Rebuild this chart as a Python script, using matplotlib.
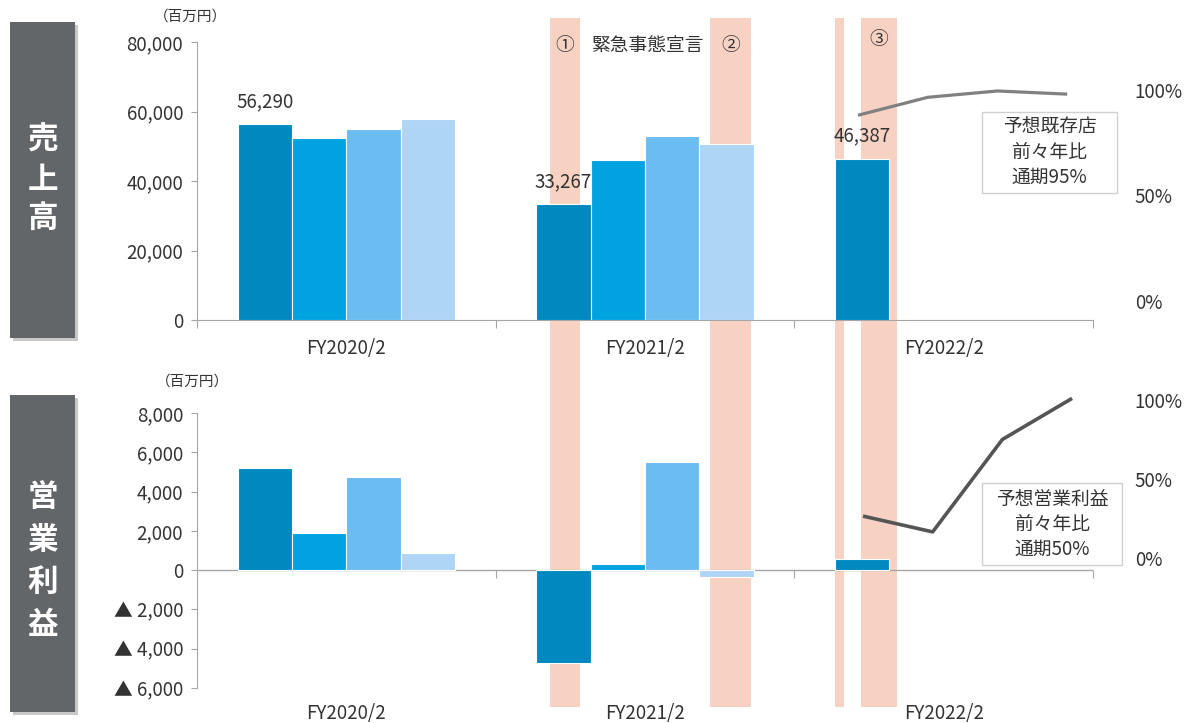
import numpy as np
import matplotlib
matplotlib.use('Agg')
import matplotlib.pyplot as plt
import matplotlib.transforms as mtransforms
from matplotlib.patches import Rectangle
from matplotlib.ticker import FuncFormatter

plt.rcParams['font.family'] = ['Noto Sans CJK JP', 'DejaVu Sans']

# 年度と四半期
years = ['FY2020/2', 'FY2021/2', 'FY2022/2']
quarters = ['1Q', '2Q', '3Q', '4Q']

# 売上高（百万円）
sales = [
    [56290, 52400, 55000, 57800],
    [33267, 46000, 52900, 50600],
    [46387],
]
# 営業利益（百万円）
profit = [
    [5200, 1900, 4750, 870],
    [-4750, 300, 5500, -350],
    [560],
]
# 予想 前々年比（%）
sales_ratio = [88, 96.5, 99.5, 98]
profit_ratio = [26.5, 16.5, 75, 101]

# 緊急事態宣言の期間（カテゴリ軸上）
periods = [(0.681, 0.781), (1.216, 1.356), (1.637, 1.667), (1.724, 1.844)]
period_marks = ['①', '②', None, '③']

bar_colors = ['#0088bf', '#00a3e0', '#6bbcf0', '#aed5f5']
band_color = '#f7d2c3'
txt_color = '#333333'
axis_color = '#a6a6a6'

W, H = 1192, 723
fig = plt.figure(figsize=(W / 100, H / 100), dpi=100)


def fx(x):
    return x / W


def fy(y):
    return 1 - y / H


def box(x0, y0, x1, y1):
    return [fx(x0), fy(y1), (x1 - x0) / W, (y1 - y0) / H]


bw = 0.182


def neg_fmt(v, pos):
    if v < 0:
        return '▲ {:,.0f}'.format(-v)
    return '{:,.0f}'.format(v)


def setup_cat_axis(ax, label_pad):
    ax.set_xlim(-0.5, len(years) - 0.5)
    ax.set_facecolor('none')
    for s in ['top', 'right']:
        ax.spines[s].set_visible(False)
    ax.spines['left'].set_color(axis_color)
    ax.tick_params(axis='y', colors=axis_color, labelcolor=txt_color,
                   labelsize=13.5, length=4, direction='out', pad=6)
    ax.yaxis.set_major_formatter(FuncFormatter(neg_fmt))
    ax.set_xticks(np.arange(-0.5, len(years)), minor=False)
    ax.set_xticklabels([])
    ax.set_xticks(np.arange(len(years)), minor=True)
    ax.set_xticklabels(years, minor=True)
    ax.tick_params(axis='x', which='minor', length=0, labelsize=13.5,
                   labelcolor=txt_color, pad=label_pad)


def draw_bars(ax, data):
    for i, vals in enumerate(data):
        for q, v in enumerate(vals):
            x = i + (q - 1.5) * bw
            ax.bar(x, v, width=bw, color=bar_colors[q], edgecolor='white',
                   linewidth=0.8, zorder=3)


# ---- 売上高 ----
ax1 = fig.add_axes(box(197, 42, 1093, 320))
setup_cat_axis(ax1, 13)
ax1.set_ylim(0, 80000)
ax1.set_yticks(np.arange(0, 80001, 20000))
ax1.spines['bottom'].set_color(axis_color)
ax1.tick_params(axis='x', which='major', length=6, color=axis_color)
draw_bars(ax1, sales)
for i, vals in enumerate(sales):
    x = i - 1.5 * bw
    ax1.annotate('{:,}'.format(vals[0]), (x, vals[0]), xytext=(0, 9),
                 textcoords='offset points', ha='center', va='bottom',
                 fontsize=13.5, color=txt_color, zorder=4)

ax1r = fig.add_axes(box(197, 42, 1093, 320))
ax1r.set_facecolor('none')
ax1r.set_xlim(-9.48, 3.37)
ax1r.set_ylim(-9.0, 122.7)
ax1r.plot(range(len(quarters)), sales_ratio, color='#808080', lw=2.3,
          solid_capstyle='butt')

# ---- 営業利益 ----
ax2 = fig.add_axes(box(197, 413, 1093, 688))
setup_cat_axis(ax2, 11)
ax2.set_ylim(-6000, 8000)
ax2.set_yticks(np.arange(-6000, 8001, 2000))
ax2.spines['bottom'].set_visible(False)
ax2.tick_params(axis='x', which='major', length=0)
ax2.axhline(0, color=axis_color, lw=1, zorder=2)
zero_line = ax2.secondary_xaxis(6000 / 14000)
zero_line.spines['bottom'].set_visible(False)
zero_line.set_xticks(np.arange(0.5, len(years)))
zero_line.set_xticklabels([])
zero_line.tick_params(length=6, color=axis_color)
draw_bars(ax2, profit)

ax2r = fig.add_axes(box(197, 390, 1093, 688))
ax2r.set_facecolor('none')
ax2r.set_xlim(-9.555, 3.30)
ax2r.set_ylim(-82.3, 106.3)
ax2r.plot(range(len(quarters)), profit_ratio, color='#555555', lw=2.6,
          solid_capstyle='butt')

for axr in (ax1r, ax2r):
    for s in axr.spines.values():
        s.set_visible(False)
    axr.set_xticks([])
    axr.yaxis.tick_right()
    axr.set_yticks([0, 50, 100])
    axr.set_yticklabels(['0%', '50%', '100%'])
    axr.tick_params(axis='y', length=0, pad=30, labelsize=13.5,
                    labelcolor=txt_color)

# 緊急事態宣言の帯
band_tr = mtransforms.blended_transform_factory(ax1.transData, fig.transFigure)
for (x0, x1), mark in zip(periods, period_marks):
    fig.add_artist(Rectangle((x0, fy(707)), x1 - x0, fy(18) - fy(707),
                             transform=band_tr, color=band_color, lw=0,
                             zorder=-1))
    if mark:
        ytxt = fy(40) if mark == '③' else fy(45)
        fig.text((x0 + x1) / 2, ytxt, mark, transform=band_tr, ha='center',
                 va='center', fontsize=13.5, color=txt_color)
fig.text(fx(647), fy(45), '緊急事態宣言', ha='center', va='center',
         fontsize=13.5, color=txt_color)

# 単位
fig.text(fx(190), fy(17), '（百万円）', ha='center', va='center', fontsize=10.5,
         color=txt_color)
fig.text(fx(192), fy(382), '（百万円）', ha='center', va='center', fontsize=10.5,
         color=txt_color)

# 注記ボックス
notes = [((982, 112, 1117, 193), '予想既存店\n前々年比\n通期95%'),
         ((982, 483, 1122, 565), '予想営業利益\n前々年比\n通期50%')]
for (x0, y0, x1, y1), t in notes:
    fig.add_artist(Rectangle((fx(x0), fy(y1)), (x1 - x0) / W, (y1 - y0) / H,
                             transform=fig.transFigure, facecolor='white',
                             edgecolor='#d0d0d0', lw=1, zorder=5))
    fig.text(fx((x0 + x1) / 2), fy((y0 + y1) / 2), t, ha='center', va='center',
             fontsize=13.5, color=txt_color, linespacing=1.25, zorder=6)

# 左側の見出し
heads = [((10, 22, 75, 338), '売上高', [140, 180, 218]),
         ((10, 395, 75, 712), '営業利益', [497, 540, 582, 625])]
for (x0, y0, x1, y1), t, ys in heads:
    fig.add_artist(Rectangle((fx(x0 + 3), fy(y1 + 3)), (x1 - x0) / W,
                             (y1 - y0) / H, transform=fig.transFigure,
                             facecolor='#c8c8c8', lw=0, zorder=1))
    fig.add_artist(Rectangle((fx(x0), fy(y1)), (x1 - x0) / W, (y1 - y0) / H,
                             transform=fig.transFigure, facecolor='#636669',
                             lw=0, zorder=2))
    for ch, yc in zip(t, ys):
        fig.text(fx((x0 + x1) / 2), fy(yc), ch, ha='center', va='center',
                 fontsize=22, fontweight='bold', color='white', zorder=3)

fig.savefig('out.png', dpi=100)
